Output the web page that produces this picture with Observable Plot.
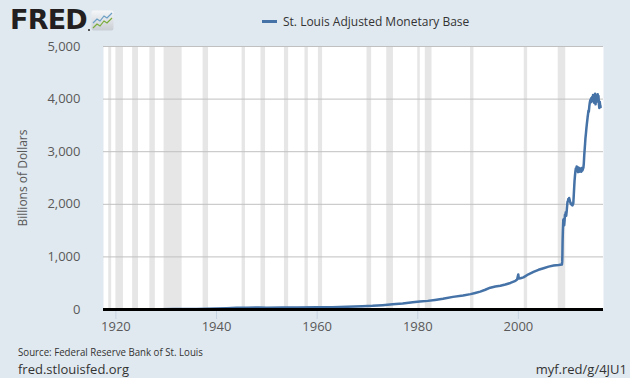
<!DOCTYPE html>
<html>
<head>
<meta charset="utf-8">
<script src="https://cdn.jsdelivr.net/npm/d3@7"></script>
<script src="https://cdn.jsdelivr.net/npm/@observablehq/plot@0.6"></script>
<style>
  html, body { margin: 0; padding: 0; }
  body { width: 630px; height: 378px; background: #e1e9f0; position: relative; overflow: hidden; font-family: "Open Sans", sans-serif; }
  #chart { position: absolute; left: 0; top: 0; }
  .abs { position: absolute; white-space: nowrap; }
</style>
</head>
<body>
<div id="chart"></div>
<div class="abs" id="logo" style="left:10px; top:4px; font-family:'DejaVu Sans'; font-weight:bold; font-size:27px; color:#231f20; letter-spacing:-0.8px;">FRED</div>
<svg class="abs" style="left:87px; top:9px;" width="28" height="24" viewBox="0 0 28 24">
  <circle cx="2" cy="21" r="1" fill="#231f20"/>
  <defs><linearGradient id="g" x1="0" y1="0" x2="0" y2="1"><stop offset="0" stop-color="#f4f6f8"/><stop offset="1" stop-color="#c9ced4"/></linearGradient></defs>
  <rect x="4.5" y="1.5" width="22" height="20" rx="2" fill="url(#g)"/>
  <polyline points="6,14 10,10 13,12 17,7 20,9 25,4" fill="none" stroke="#6b9fc6" stroke-width="1.2"/>
  <polyline points="6,19 10,15 13,17 17,12 20,14 25,9" fill="none" stroke="#7aac3a" stroke-width="1.2"/>
</svg>
<div class="abs" style="left:262px; top:20px; width:15px; height:3px; background:#4572a7;"></div>
<div class="abs" style="left:283px; top:12px; font-size:12px; line-height:19px; color:#333;">St. Louis Adjusted Monetary Base</div>
<div class="abs" style="left:18px; top:344px; font-size:11px; line-height:16px; color:#333; transform:scaleX(0.88); transform-origin:0 0;">Source: Federal Reserve Bank of St. Louis</div>
<div class="abs" style="left:18px; top:360px; font-size:13px; line-height:18px; color:#333;">fred.stlouisfed.org</div>
<div class="abs" style="right:3px; top:360px; font-size:13px; line-height:18px; color:#333;">myf.red/g/4JU1</div>
<script>
// Series: St. Louis Adjusted Monetary Base, billions of dollars
const dates = [
  "1918-01-01","1919-01-01","1920-06-01","1922-01-01","1925-01-01","1929-01-01","1931-06-01","1933-06-01",
  "1936-01-01","1938-01-01","1940-01-01","1942-01-01","1944-01-01","1946-01-01","1948-06-01","1950-01-01",
  "1953-01-01","1956-01-01","1960-01-01","1963-01-01","1966-01-01","1969-01-01","1971-01-01","1973-01-01",
  "1975-01-01","1977-01-01","1979-01-01","1980-06-01","1982-01-01","1983-06-01","1985-01-01","1987-01-01",
  "1989-01-01","1990-07-01","1991-06-01","1992-06-01","1993-06-01","1994-06-01","1995-06-01","1996-06-01",
  "1997-06-01","1998-06-01","1999-06-01","1999-10-01","1999-12-22","2000-02-01","2000-06-01","2001-01-01",
  "2002-01-01","2003-01-01","2004-01-01","2005-01-01","2006-01-01","2007-01-01","2008-01-01","2008-08-27",
  "2008-09-17","2008-10-01","2008-10-15","2008-11-05","2008-12-03","2009-01-07","2009-02-04","2009-03-04",
  "2009-04-01","2009-05-06","2009-06-03","2009-07-01","2009-08-05","2009-09-02","2009-10-07","2009-11-04",
  "2009-12-02","2010-01-06","2010-02-03","2010-03-03","2010-04-07","2010-05-05","2010-06-02","2010-07-07",
  "2010-08-04","2010-09-01","2010-10-06","2010-11-03","2010-12-01","2011-01-05","2011-02-02","2011-03-02",
  "2011-04-06","2011-05-04","2011-06-01","2011-07-06","2011-08-03","2011-09-07","2011-10-05","2011-11-02",
  "2011-12-07","2012-01-04","2012-02-01","2012-03-07","2012-04-04","2012-05-02","2012-06-06","2012-07-04",
  "2012-08-01","2012-09-05","2012-10-03","2012-11-07","2012-12-05","2013-01-02","2013-02-06","2013-03-06",
  "2013-04-03","2013-05-01","2013-06-05","2013-07-03","2013-08-07","2013-09-04","2013-10-02","2013-11-06",
  "2013-12-04","2014-01-01","2014-02-05","2014-03-05","2014-04-02","2014-05-07","2014-06-04","2014-07-02",
  "2014-08-06","2014-09-03","2014-10-01","2014-11-05","2014-12-03","2015-01-07","2015-02-04","2015-03-04",
  "2015-04-01","2015-05-06","2015-06-03","2015-07-01","2015-08-05","2015-09-02","2015-10-07","2015-11-04",
  "2015-12-02","2016-01-06","2016-02-03","2016-03-02","2016-04-06","2016-05-04"
];
const values = [
  5.6,6.4,7.0,6.3,6.5,6.6,7.2,8.2,
  11.0,13.5,19.0,23.5,31.0,35.5,36.5,35.0,
  38.5,39.5,41.0,45.0,52.0,62.0,70.0,83.0,
  98.0,115.0,137.0,150.0,164.0,182.0,203.0,240.0,
  265.0,292.0,315.0,340.0,375.0,415.0,438.0,450.0,
  475.0,505.0,545.0,570.0,665.0,590.0,595.0,610.0,
  670.0,715.0,755.0,785.0,815.0,835.0,845.0,855.0,
  905,1050,1300,1500,1700,1720,1600,1680,
  1800,1780,1850,1780,1860,1950,2050,2050,
  2100,2080,2120,2090,2050,2030,2010,2000,
  1990,2010,1980,2000,2020,2180,2320,2450,
  2560,2630,2680,2660,2720,2640,2680,2610,
  2700,2650,2690,2620,2680,2630,2650,2620,
  2690,2640,2650,2680,2700,2780,2950,3050,
  3150,3260,3350,3430,3520,3580,3650,3720,
  3780,3760,3860,3920,3960,3990,3940,4020,
  3960,4040,3980,4080,4060,3930,4050,4000,
  4100,3900,4030,3950,4070,4000,4090,3950,
  4060,3900,3830,3950,3880,3850
];
// NBER recessions (peak, trough)
const recessionStart = ["1918-08-01","1920-01-01","1923-05-01","1926-10-01","1929-08-01","1937-05-01","1945-02-01","1948-11-01","1953-07-01","1957-08-01","1960-04-01","1969-12-01","1973-11-01","1980-01-01","1981-07-01","1990-07-01","2001-03-01","2007-12-01"];
const recessionEnd   = ["1919-03-01","1921-07-01","1924-07-01","1927-11-01","1933-03-01","1938-06-01","1945-10-01","1949-10-01","1954-05-01","1958-04-01","1961-02-01","1970-11-01","1975-03-01","1980-07-01","1982-11-01","1991-03-01","2001-11-01","2009-06-01"];
const xTickYears = [1920, 1940, 1960, 1980, 2000];
const yTicks = [0, 1000, 2000, 3000, 4000, 5000];

const data = dates.map((d, i) => ({date: new Date(d + "T00:00:00Z"), value: values[i]}));
const recessions = recessionStart.map((s, i) => ({start: new Date(s + "T00:00:00Z"), end: new Date(recessionEnd[i] + "T00:00:00Z")}));

const chart = Plot.plot({
  width: 630,
  height: 378,
  marginLeft: 103,
  marginRight: 27,
  marginTop: 46,
  marginBottom: 69,
  style: {background: "transparent", fontFamily: "Open Sans", fontSize: "13px", color: "#595959"},
  x: {type: "utc", domain: [new Date(Date.UTC(1917, 6, 15)), new Date(Date.UTC(2016, 11, 1))]},
  y: {domain: [0, 5000]},
  marks: [
    Plot.frame({fill: "white", stroke: null}),
    Plot.rect(recessions, {x1: "start", x2: "end", y1: 0, y2: 5000, fill: "#e6e6e6"}),
    Plot.gridY(yTicks.filter(d => d > 0), {stroke: "#c0c0c0", strokeOpacity: 1}),
    Plot.axisY(yTicks, {tickSize: 0, tickPadding: 23, tickFormat: d3.format(","), label: null, fill: "#595959"}),
    Plot.axisX(xTickYears.map(y => new Date(Date.UTC(y, 0, 1))), {tickSize: 10, tickPadding: 2, tickFormat: d3.utcFormat("%Y"), stroke: "#c5d3e2", fill: "#595959", label: null}),
    Plot.text(["Billions of Dollars"], {frameAnchor: "left", textAnchor: "middle", dx: -80, rotate: -90, fill: "#595959", fontSize: 12}),
    Plot.lineY(data, {x: "date", y: "value", stroke: "#4572a7", strokeWidth: 2.5}),
    Plot.ruleY([0], {stroke: "black", strokeWidth: 3})
  ]
});
document.getElementById("chart").appendChild(chart);
</script>
</body>
</html>
